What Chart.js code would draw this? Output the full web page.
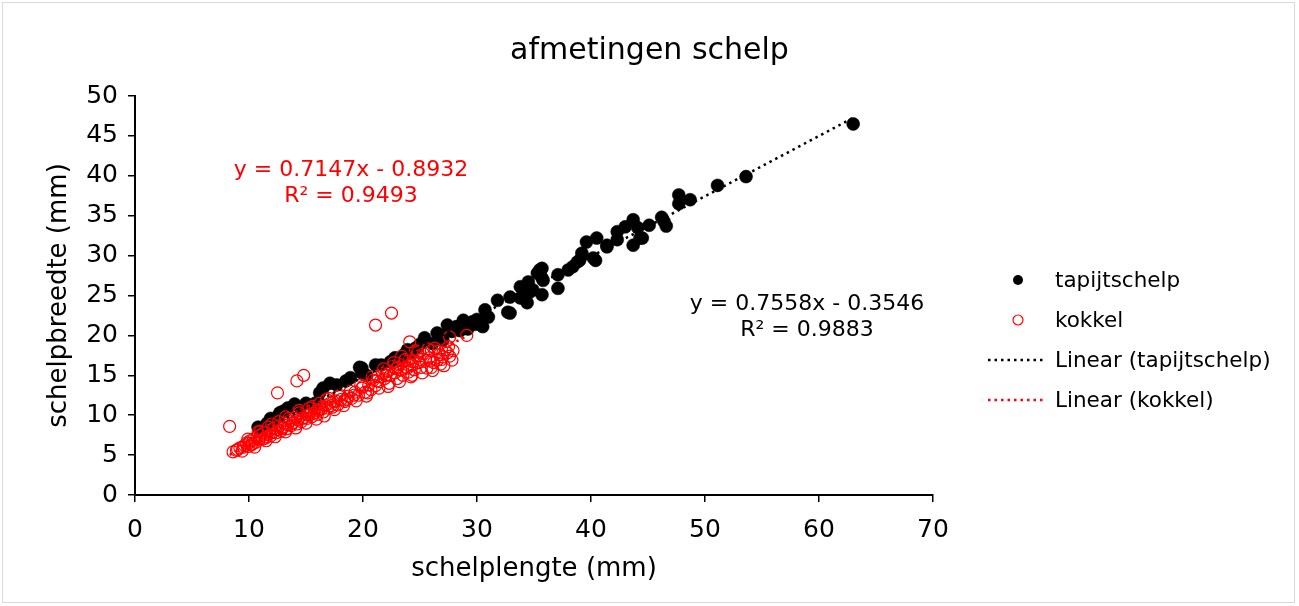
<!DOCTYPE html>
<html>
<head>
<meta charset="utf-8">
<script src="https://cdn.jsdelivr.net/npm/chart.js@4/dist/chart.umd.min.js"></script>
<style>
html,body{margin:0;padding:0;background:#fff;}
#wrap{position:relative;width:1299px;height:606px;}
</style>
</head>
<body>
<div id="wrap"><canvas id="c"></canvas></div>
<script>
// ---- data ----
const chartTitle = 'afmetingen schelp';
const xTitle = 'schelplengte (mm)';
const yTitle = 'schelpbreedte (mm)';
const seriesNames = ['tapijtschelp', 'kokkel', 'Linear (tapijtschelp)', 'Linear (kokkel)'];

const tapijtschelp = [
  [63.0,46.5],[53.6,39.9],[51.1,38.8],[48.7,37.0],[47.7,37.6],[47.7,36.5],[46.6,33.7],[46.2,34.8],[46.4,34.3],
  [45.1,33.8],[44.5,32.2],[44.3,32.2],[44.1,33.5],[43.7,34.5],[43.7,31.3],[43.0,33.6],[42.3,33.0],[42.3,32.0],
  [41.4,31.3],[41.4,31.1],[40.5,32.2],[40.2,29.7],[40.4,29.4],[39.6,31.7],[39.2,30.3],[39.0,29.4],[38.8,29.2],
  [38.4,28.6],[38.0,28.2],[37.1,27.6],[37.1,25.9],[35.7,28.4],[35.3,27.8],[35.5,28.2],[35.8,26.9],[35.7,27.2],
  [34.5,26.7],[33.8,26.1],[34.6,25.4],[34.9,25.7],[35.7,25.1],[32.9,24.8],[34.4,24.1],[33.8,24.7],[31.8,24.4],
  [32.7,22.9],[32.9,22.8],[30.7,23.2],[31.0,22.3],[30.5,21.1],[29.6,21.7],[28.8,21.9],[28.2,21.1],[27.4,21.3],
  [26.5,20.3],[25.4,19.7],[26.1,19.0],[27.0,19.4],[24.6,18.4],[23.9,18.2],[23.2,16.9],[22.4,16.7],[21.1,16.3],
  [19.9,15.9],[19.9,15.3],[20.3,15.0],[19.7,16.0],[17.1,14.0],[17.7,13.8],[16.5,13.4],[16.2,12.8],[15.8,11.5],
  [14.5,10.9],[13.4,10.9],[12.7,10.3],[12.5,9.8],[11.6,9.0],[10.8,8.5],
  [28.5,20.6],[29.2,20.8],[30.0,22.0],[27.8,20.5],[25.0,18.9],[23.6,17.6],[21.6,16.3],[18.5,14.3],[18.9,14.7],
  [14.0,11.4],[15.0,11.5],[13.0,10.5],[12.0,9.3],[11.9,9.6],[22.8,17.2],[24.3,17.9],[26.9,20.0],[29.9,21.4]
];

const kokkel = [
  [8.3,8.6],[12.5,12.8],[14.2,14.3],[14.8,15.0],[21.1,21.3],[22.5,22.8],[29.1,20.0],[27.6,19.8],[24.1,19.2],
  [18.0,12.5],[20.4,12.8],
  [8.6,5.4],[8.9,5.6],[9.2,5.9],[9.4,5.5],[9.6,6.2],[9.8,6.5],[10.0,6.1],[10.1,6.8],[10.3,6.4],[10.4,7.0],
  [10.6,6.6],[10.7,7.3],[10.9,6.9],[11.0,7.5],[11.2,7.0],[11.3,7.8],[11.5,7.3],[11.6,7.6],[11.8,8.1],[11.9,7.4],
  [12.1,7.9],[12.2,8.4],[12.4,7.8],[12.5,8.2],[12.7,8.7],[12.8,8.0],[13.0,8.5],[13.1,9.0],[13.3,8.3],[13.4,8.8],
  [13.6,9.3],[13.7,8.7],[13.9,9.1],[14.0,9.6],[14.2,8.9],[14.3,9.4],[14.5,9.9],[14.6,9.2],[14.8,9.7],[14.9,10.2],
  [15.1,9.6],[15.2,10.0],[15.4,10.5],[15.5,9.8],[15.7,10.3],[15.8,10.8],[16.0,10.1],[16.1,10.6],[16.3,11.0],
  [16.5,10.4],[16.7,11.2],[16.9,10.9],[17.1,11.5],[17.3,11.0],[17.6,11.8],[17.8,11.3],[18.1,12.0],[18.4,11.7],
  [18.7,12.4],[19.0,12.1],[19.3,12.9],[19.6,12.5],[19.9,13.4],[20.2,12.9],[20.5,13.8],[20.7,13.2],[20.9,14.4],
  [21.1,13.7],[21.3,14.9],[21.5,14.2],[21.7,15.2],[21.9,14.6],[22.1,15.6],[22.3,14.0],[22.4,15.0],[22.6,16.1],
  [22.8,15.3],[23.0,14.6],[23.1,16.4],[23.3,15.7],[23.5,15.0],[23.6,16.8],[23.8,16.0],[24.0,15.4],[24.1,17.1],
  [24.3,16.3],[24.5,15.7],[24.7,17.4],[24.9,16.6],[25.1,16.0],[25.3,17.7],[25.5,16.9],[25.6,15.9],[25.8,17.2],
  [26.0,18.1],[26.2,16.6],[26.5,16.9],[26.7,17.6],[27.0,17.3],[27.4,17.8],[27.8,16.9],[27.5,18.6],[26.3,18.4],
  [24.6,18.1],[23.4,17.4],[13.2,9.8],[14.4,10.6],[15.6,11.1],[16.8,12.0],[12.0,8.9],[11.0,8.0],[26.0,16.0],
  [26.8,16.4],[27.2,18.2],[18.4,11.9],[10.2,6.3],[9.9,7.0],[11.4,7.1],[12.9,8.3],[16.4,10.8],[17.4,11.7],
  [10.5,6.0],[10.8,7.9],[11.5,6.8],[11.7,8.5],[12.3,7.3],[12.6,9.2],[13.2,7.9],[13.5,9.6],[14.1,8.4],[14.4,10.3],
  [15.0,9.0],[15.3,10.9],[15.9,9.5],[16.2,11.5],[16.6,9.9],[17.0,12.1],[17.5,10.7],[17.9,12.4],[18.3,11.2],
  [18.9,13.0],[19.4,11.8],[19.8,13.8],[20.3,12.4],[20.8,14.8],[21.4,13.4],[21.8,15.8],[22.2,13.6],[22.7,16.6],
  [23.2,14.2],[23.7,17.0],[24.2,14.8],[24.8,17.9],[25.2,15.3],[25.7,18.3],[26.1,15.6],[26.6,18.0],[27.1,16.2],
  [27.6,17.4],[27.9,18.1],[25.0,17.0],[24.4,16.7],[23.9,15.9],[22.9,15.8],[22.0,15.0],[21.2,14.3],[20.0,13.6],
  [19.2,12.5],[18.6,12.0],[17.2,11.2],[16.0,10.6],[15.3,10.1],[14.7,9.6],[13.8,9.0],[12.9,8.5],[11.8,7.7],
  [10.9,7.1],[10.0,6.5],[9.5,6.0],[9.0,5.7],[24.3,15.0],[25.9,16.8],[26.9,17.0],[23.0,16.0]
];

// trend line end points (from the fitted equations shown on the chart)
const tapTrendX = [10.8, 63.0];
const tapTrendY = [7.81, 47.26];
const kokTrendX = [8.3, 29.1];
const kokTrendY = [5.04, 19.90];

const tapEquation = ['y = 0.7558x - 0.3546', 'R² = 0.9883'];
const kokEquation = ['y = 0.7147x - 0.8932', 'R² = 0.9493'];

const xTicks = [0,10,20,30,40,50,60,70];
const yTicks = [0,5,10,15,20,25,30,35,40,45,50];

// ---- chart ----
const FONT = 'DejaVu Sans';
const toPts = arr => arr.map(p => ({x: p[0], y: p[1]}));
const toLine = (xs, ys) => xs.map((x, i) => ({x: x, y: ys[i]}));

const bgPlugin = {
  id: 'bg',
  beforeDraw(chart) {
    const ctx = chart.ctx;
    ctx.save();
    ctx.fillStyle = '#fff';
    ctx.fillRect(0, 0, chart.width, chart.height);
    ctx.strokeStyle = '#d9d9d9';
    ctx.lineWidth = 1;
    ctx.strokeRect(2.5, 2.5, chart.width - 7, chart.height - 6);
    ctx.restore();
  }
};

const notePlugin = {
  id: 'notes',
  afterDraw(chart) {
    const ctx = chart.ctx;
    ctx.save();
    ctx.textAlign = 'center';
    ctx.textBaseline = 'middle';
    ctx.font = '22px "' + FONT + '"';
    ctx.fillStyle = '#ff0000';
    ctx.fillText(kokEquation[0], 351, 170);
    ctx.fillText(kokEquation[1], 351, 196);
    ctx.fillStyle = '#000';
    ctx.fillText(tapEquation[0], 807, 304);
    ctx.fillText(tapEquation[1], 807, 330);
    ctx.restore();
  }
};

const legendPlugin = {
  id: 'customLegend',
  afterDraw(chart) {
    const ctx = chart.ctx;
    const ds = chart.data.datasets;
    const rows = [280, 320, 360, 400];
    ctx.save();
    ctx.font = '21.5px "' + FONT + '"';
    ctx.textBaseline = 'middle';
    ctx.textAlign = 'left';
    ds.forEach((d, i) => {
      const y = rows[i];
      if (d.showLine) {
        ctx.strokeStyle = d.borderColor;
        ctx.lineWidth = 2.5;
        ctx.setLineDash([2.5, 4]);
        ctx.beginPath();
        ctx.moveTo(988, y);
        ctx.lineTo(1043, y);
        ctx.stroke();
        ctx.setLineDash([]);
      } else {
        ctx.beginPath();
        ctx.arc(1018, y, 5, 0, Math.PI * 2);
        if (d.pointBackgroundColor && d.pointBackgroundColor !== 'rgba(0,0,0,0)') {
          ctx.fillStyle = d.pointBackgroundColor;
          ctx.fill();
        } else {
          ctx.strokeStyle = d.pointBorderColor;
          ctx.lineWidth = 1.2;
          ctx.stroke();
        }
      }
      ctx.fillStyle = '#000';
      ctx.fillText(d.label, 1055, y + 1);
    });
    ctx.restore();
  }
};

new Chart(document.getElementById('c'), {
  type: 'scatter',
  data: {
    datasets: [
      {
        label: seriesNames[0], data: toPts(tapijtschelp), order: 3,
        pointRadius: 6.5, pointHoverRadius: 6.5,
        pointBackgroundColor: '#000', pointBorderColor: '#000', pointBorderWidth: 0.5,
        showLine: false
      },
      {
        label: seriesNames[1], data: toPts(kokkel), order: 2,
        pointRadius: 6, pointHoverRadius: 6,
        pointBackgroundColor: 'rgba(0,0,0,0)', pointBorderColor: '#ff0000', pointBorderWidth: 1.2,
        showLine: false
      },
      {
        label: seriesNames[2], data: toLine(tapTrendX, tapTrendY), order: 1,
        showLine: true, borderColor: '#000', borderWidth: 2.5, borderDash: [2.5, 4],
        pointRadius: 0, pointHoverRadius: 0, fill: false
      },
      {
        label: seriesNames[3], data: toLine(kokTrendX, kokTrendY), order: 0,
        showLine: true, borderColor: '#ff0000', borderWidth: 2.5, borderDash: [2.5, 4],
        pointRadius: 0, pointHoverRadius: 0, fill: false
      }
    ]
  },
  options: {
    responsive: true,
    maintainAspectRatio: false,
    animation: false,
    events: [],
    layout: { padding: 0 },
    plugins: {
      legend: { display: false },
      tooltip: { enabled: false },
      title: {
        display: true, text: chartTitle, color: '#000',
        font: { family: FONT, size: 30, weight: 'normal', lineHeight: 1.2 },
        padding: { top: 33, bottom: 27 }
      }
    },
    scales: {
      x: {
        type: 'linear', min: 0, max: 70,
        afterBuildTicks: s => { s.ticks = xTicks.map(v => ({value: v})); },
        afterFit: s => { s.height = 111; },
        grid: { drawOnChartArea: false, drawTicks: true, tickLength: 7, color: '#000', lineWidth: 1.5 },
        border: { display: true, color: '#000', width: 2 },
        ticks: { color: '#000', padding: 13, font: { family: FONT, size: 25 }, maxRotation: 0 },
        title: { display: true, text: xTitle, color: '#000', font: { family: FONT, size: 26, lineHeight: 1.2 }, padding: { top: 0, bottom: 21 } }
      },
      y: {
        type: 'linear', min: 0, max: 50,
        afterBuildTicks: s => { s.ticks = yTicks.map(v => ({value: v})); },
        afterFit: s => { s.width = 135; },
        grid: { drawOnChartArea: false, drawTicks: true, tickLength: 7, color: '#000', lineWidth: 1.5 },
        border: { display: true, color: '#000', width: 2 },
        ticks: { color: '#000', padding: 10, font: { family: FONT, size: 25 } },
        title: { display: true, text: yTitle, color: '#000', font: { family: FONT, size: 26, lineHeight: 1.2 }, padding: { top: 44, bottom: 0 } }
      },
      legendSpace: {
        type: 'linear', position: 'right', min: 0, max: 1, display: true,
        afterFit: s => { s.width = 366; },
        grid: { display: false, drawTicks: false },
        border: { display: false },
        ticks: { display: false },
        title: { display: false }
      }
    }
  },
  plugins: [bgPlugin, notePlugin, legendPlugin]
});
</script>
</body>
</html>
